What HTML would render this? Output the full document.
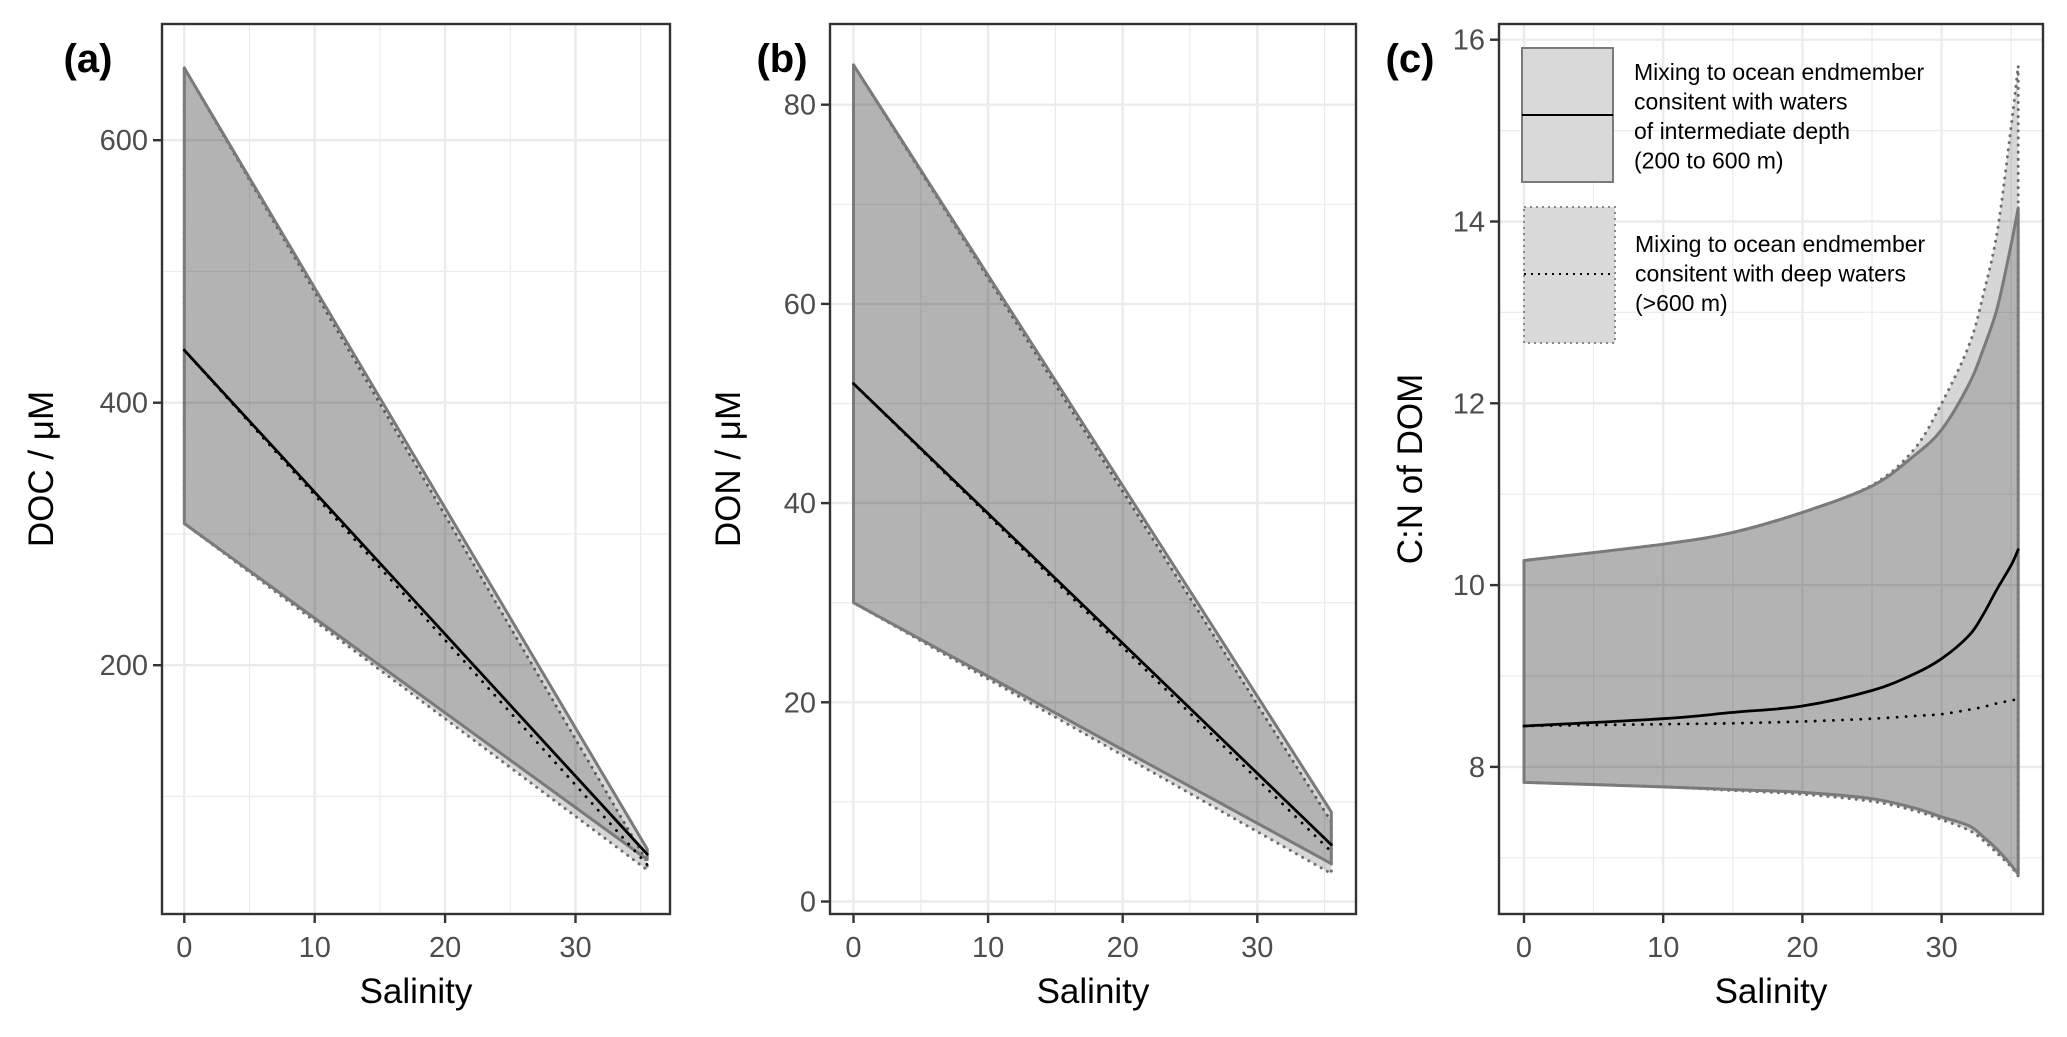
<!DOCTYPE html>
<html><head><meta charset="utf-8">
<style>
html,body{margin:0;padding:0;background:#fff;}
svg{display:block;font-family:"Liberation Sans",Arial,sans-serif;}
</style></head>
<body>
<svg id="fig" width="2067" height="1037" viewBox="0 0 2067 1037" xmlns="http://www.w3.org/2000/svg">
<rect x="0" y="0" width="2067" height="1037" fill="#fff"/>
</svg>
<script>
// ---- Panel (a) DOC data ----
const salA = [0, 35.5];
const docUpperInt = [655, 60];
const docLowerInt = [308, 52];
const docMidInt = [440, 56];
const docUpperDeep = [655, 50];
const docLowerDeep = [308, 44];
const docMidDeep = [440, 48];
const ticksA = [200, 400, 600];
// ---- Panel (b) DON data ----
const salB = [0, 35.5];
const donUpperInt = [84, 9];
const donLowerInt = [30, 3.8];
const donMidInt = [52, 5.7];
const donUpperDeep = [84, 8];
const donLowerDeep = [30, 2.8];
const donMidDeep = [52, 5];
const ticksB = [0, 20, 40, 60, 80];
// ---- Panel (c) C:N data ----
const salC = [0, 10, 15, 20, 25, 28, 30, 32, 33, 34, 35, 35.5];
const cnUpperInt = [10.27, 10.45, 10.58, 10.8, 11.09, 11.42, 11.71, 12.22, 12.6, 13.05, 13.75, 14.15];
const cnLowerInt = [7.83, 7.78, 7.75, 7.72, 7.65, 7.55, 7.45, 7.35, 7.23, 7.09, 6.92, 6.82];
const cnMidInt = [8.45, 8.53, 8.6, 8.67, 8.84, 9.02, 9.19, 9.45, 9.68, 9.96, 10.22, 10.39];
const cnUpperDeep = [10.27, 10.45, 10.58, 10.8, 11.1, 11.49, 12.0, 12.65, 13.2, 13.89, 15.05, 15.71];
const cnLowerDeep = [7.83, 7.78, 7.74, 7.7, 7.62, 7.52, 7.42, 7.3, 7.19, 7.05, 6.9, 6.8];
const cnMidDeep = [8.45, 8.47, 8.48, 8.5, 8.53, 8.56, 8.58, 8.63, 8.66, 8.7, 8.73, 8.75];
const ticksC = [8, 10, 12, 14, 16];
const ticksX = [0, 10, 20, 30];

const NS = "http://www.w3.org/2000/svg";
const fig = document.getElementById('fig');
function mk(tag, parent, attrs) {
  const e = document.createElementNS(NS, tag);
  for (const k in attrs) e.setAttribute(k, attrs[k]);
  parent.appendChild(e);
  return e;
}
// Catmull-Rom smooth path through points (continuing an existing path)
function smooth(pts, start) {
  let d = (start ? 'M' : 'L') + pts[0][0].toFixed(1) + ',' + pts[0][1].toFixed(1);
  if (pts.length < 3) {
    for (let i = 1; i < pts.length; i++) d += 'L' + pts[i][0].toFixed(1) + ',' + pts[i][1].toFixed(1);
    return d;
  }
  for (let i = 0; i < pts.length - 1; i++) {
    const p0 = pts[Math.max(0, i - 1)], p1 = pts[i], p2 = pts[i + 1], p3 = pts[Math.min(pts.length - 1, i + 2)];
    const c1x = p1[0] + (p2[0] - p0[0]) / 6, c1y = p1[1] + (p2[1] - p0[1]) / 6;
    const c2x = p2[0] - (p3[0] - p1[0]) / 6, c2y = p2[1] - (p3[1] - p1[1]) / 6;
    d += 'C' + c1x.toFixed(1) + ',' + c1y.toFixed(1) + ' ' + c2x.toFixed(1) + ',' + c2y.toFixed(1) + ' ' + p2[0].toFixed(1) + ',' + p2[1].toFixed(1);
  }
  return d;
}

function panel(cfg) {
  const g = mk('g', fig, {});
  
  
  const L = cfg.left, R = cfg.right, T = 24, B = 914;
  const xs = v => cfg.x0 + v * cfg.xu;
  const ys = v => cfg.yRef - (v - cfg.vRef) * cfg.yu;
  const grid = mk('g', g, {});
  
  
  const xmin = (L - cfg.x0) / cfg.xu, xmax = (R - cfg.x0) / cfg.xu;
  for (let v = -5; v <= 40; v += 5) {
    if (v < xmin || v > xmax) continue;
    const major = v % 10 === 0;
    mk('line', grid, {x1: xs(v), x2: xs(v), y1: T, y2: B, stroke: '#ebebeb', 'stroke-width': major ? 2.4 : 1.2});
  }
  const vTop = cfg.vRef + (cfg.yRef - T) / cfg.yu, vBot = cfg.vRef - (B - cfg.yRef) / cfg.yu;
  const step = cfg.ticks[1] - cfg.ticks[0];
  for (let v = cfg.ticks[0] - 2 * step; v <= vTop; v += step / 2) {
    if (v < vBot) continue;
    const major = Math.abs(((v - cfg.ticks[0]) / step) % 1) < 1e-6;
    mk('line', grid, {x1: L, x2: R, y1: ys(v), y2: ys(v), stroke: '#ebebeb', 'stroke-width': major ? 2.4 : 1.2});
  }
  function pts(arr) { return cfg.sal.map((s, i) => [xs(s), ys(arr[i])]); }
  function ribbon(up, lo, name, dotted) {
    let d = smooth(pts(up), true);
    d += smooth(pts(lo).reverse(), false) + 'Z';
    const p = mk('path', g, {d: d, fill: 'rgba(0,0,0,0.16)', stroke: dotted ? '#6e6e6e' : '#7a7a7a', 'stroke-width': 3,
      'stroke-dasharray': dotted ? '0.1 7' : 'none', 'stroke-linecap': dotted ? 'round' : 'butt', 'stroke-linejoin': 'round'});
    
    
  }
  function line(arr, name, dotted) {
    const p = mk('path', g, {d: smooth(pts(arr), true), fill: 'none', stroke: '#000', 'stroke-width': 2.8,
      'stroke-dasharray': dotted ? '0.1 9' : 'none', 'stroke-linecap': 'round'});
    
    
  }
  ribbon(cfg.upD, cfg.loD, 'deep-water-ribbon', true);
  ribbon(cfg.upI, cfg.loI, 'intermediate-depth-ribbon', false);
  line(cfg.midD, 'deep-water-mean-line', true);
  line(cfg.midI, 'intermediate-depth-mean-line', false);
  const br = mk('rect', g, {x: L, y: T, width: R - L, height: B - T, fill: 'none', stroke: '#333', 'stroke-width': 2.4});
  
  
  ticksX.forEach(v => {
    mk('line', g, {x1: xs(v), x2: xs(v), y1: B, y2: B + 9, stroke: '#333', 'stroke-width': 2.4});
    const t = mk('text', g, {x: xs(v), y: 957, 'text-anchor': 'middle', 'font-size': 29, fill: '#4d4d4d'});
    t.textContent = v;
    
    
  });
  cfg.ticks.forEach(v => {
    mk('line', g, {x1: L - 9, x2: L, y1: ys(v), y2: ys(v), stroke: '#333', 'stroke-width': 2.4});
    const t = mk('text', g, {x: L - 14, y: ys(v) + 10, 'text-anchor': 'end', 'font-size': 29, fill: '#4d4d4d'});
    t.textContent = v;
    
    
  });
  const xt = mk('text', g, {x: (L + R) / 2, y: 1003, 'text-anchor': 'middle', 'font-size': 35, fill: '#000'});
  xt.textContent = 'Salinity';
  
  
  const yt = mk('text', g, {x: 0, y: 0, 'text-anchor': 'middle', 'font-size': 35, fill: '#000',
    transform: 'translate(' + cfg.ytx + ',' + ((T + B) / 2) + ') rotate(-90)'});
  yt.textContent = cfg.ytitle;
  
  
  const lab = mk('text', g, {x: cfg.labx, y: 72, 'text-anchor': 'middle', 'font-size': 40, 'font-weight': 'bold', fill: '#000'});
  lab.textContent = cfg.label;
  
  
  return g;
}

panel({name: 'panel-a-doc', left: 162, right: 670, x0: 184.3, xu: 13.04, yRef: 140.2, vRef: 600, yu: 1.3125,
  ticks: ticksA, sal: salA, upI: docUpperInt, loI: docLowerInt, midI: docMidInt, upD: docUpperDeep, loD: docLowerDeep, midD: docMidDeep,
  ytitle: 'DOC / μM', ytx: 53, label: '(a)', labx: 88});
panel({name: 'panel-b-don', left: 830, right: 1356, x0: 853.5, xu: 13.46, yRef: 104.7, vRef: 80, yu: 9.96,
  ticks: ticksB, sal: salB, upI: donUpperInt, loI: donLowerInt, midI: donMidInt, upD: donUpperDeep, loD: donLowerDeep, midD: donMidDeep,
  ytitle: 'DON / μM', ytx: 740, label: '(b)', labx: 782});
panel({name: 'panel-c-cn', left: 1499, right: 2043, x0: 1524, xu: 13.92, yRef: 39.7, vRef: 16, yu: 90.9,
  ticks: ticksC, sal: salC, upI: cnUpperInt, loI: cnLowerInt, midI: cnMidInt, upD: cnUpperDeep, loD: cnLowerDeep, midD: cnMidDeep,
  ytitle: 'C:N of DOM', ytx: 1422, label: '(c)', labx: 1410});

const lg = mk('g', fig, {});


const k1 = mk('rect', lg, {x: 1522, y: 48, width: 91, height: 134, fill: '#d9d9d9', stroke: '#7a7a7a', 'stroke-width': 2});


mk('line', lg, {x1: 1522, x2: 1613, y1: 115, y2: 115, stroke: '#000', 'stroke-width': 2});
const k2 = mk('rect', lg, {x: 1524, y: 207, width: 91, height: 136, fill: '#d9d9d9', stroke: '#888', 'stroke-width': 2, 'stroke-dasharray': '2 4'});


mk('line', lg, {x1: 1524, x2: 1615, y1: 274, y2: 274, stroke: '#000', 'stroke-width': 2, 'stroke-dasharray': '2 5'});
const lines1 = ['Mixing to ocean endmember', 'consitent with waters', 'of intermediate depth', '(200 to 600 m)'];
const lines2 = ['Mixing to ocean endmember', 'consitent with deep waters', '(>600  m)'];
const t1 = mk('text', lg, {x: 1634, y: 80, 'font-size': 23, fill: '#000'});


lines1.forEach((s, i) => { const ts = mk('tspan', t1, {x: 1634, y: 80 + i * 29.5}); ts.textContent = s; });
const t2 = mk('text', lg, {x: 1635, y: 252, 'font-size': 23, fill: '#000'});


lines2.forEach((s, i) => { const ts = mk('tspan', t2, {x: 1635, y: 252 + i * 29.5}); ts.textContent = s; });
</script>
</body></html>
